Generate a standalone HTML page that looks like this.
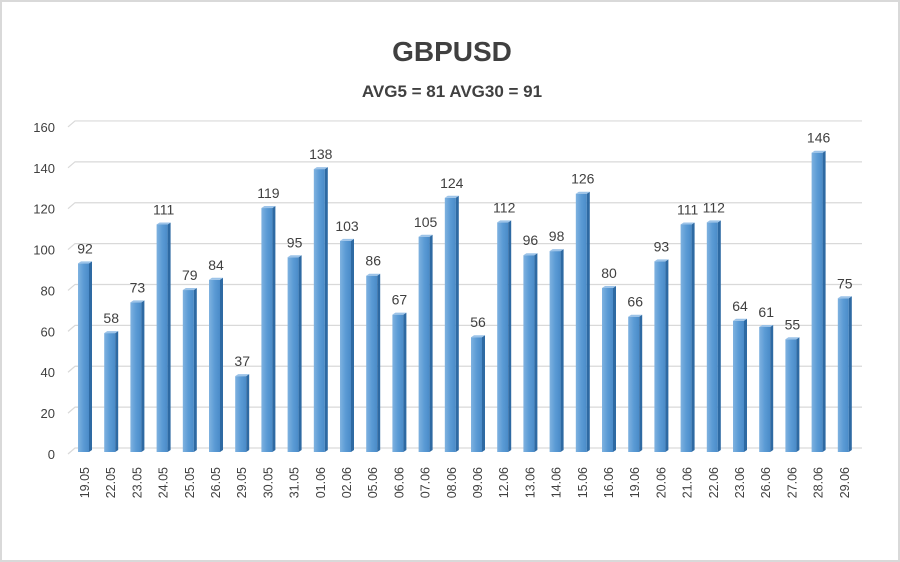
<!DOCTYPE html>
<html><head><meta charset="utf-8"><style>
html,body{margin:0;padding:0;background:#fff;}
svg{display:block;font-family:"Liberation Sans",sans-serif;}
</style></head><body>
<svg width="900" height="562" viewBox="0 0 900 562">
<defs>
<linearGradient id="g" x1="0" x2="1" y1="0" y2="0">
<stop offset="0" stop-color="#7fb2e0"/><stop offset="0.5" stop-color="#5b9bd5"/><stop offset="1" stop-color="#4a8bc8"/>
</linearGradient>
</defs>
<rect x="1" y="1" width="898" height="560" fill="#fff" stroke="#d9d9d9" stroke-width="2"/>
<text x="452" y="61" text-anchor="middle" font-size="28" font-weight="bold" fill="#404040">GBPUSD</text>
<text x="452" y="97" text-anchor="middle" font-size="17" font-weight="bold" fill="#404040">AVG5 = 81 AVG30 = 91</text>
<g id="grid" stroke="#d9d9d9" stroke-width="1.2" fill="none"></g>
<g id="ylab" font-size="13" fill="#404040" text-anchor="end"></g>
<g id="bars"></g>
<g id="vals" font-size="14" fill="#404040" text-anchor="middle"></g>
<g id="xlab" font-size="12.5" fill="#404040" text-anchor="end"></g>
</svg>
<script>
const v=[92,58,73,111,79,84,37,119,95,138,103,86,67,105,124,56,112,96,98,126,80,66,93,111,112,64,61,55,146,75];
const d=["19.05","22.05","23.05","24.05","25.05","26.05","29.05","30.05","31.05","01.06","02.06","05.06","06.06","07.06","08.06","09.06","12.06","13.06","14.06","15.06","16.06","19.06","20.06","21.06","22.06","23.06","26.06","27.06","28.06","29.06"];
const NS="http://www.w3.org/2000/svg";
function el(t,a,p,txt){const e=document.createElementNS(NS,t);for(const k in a)e.setAttribute(k,a[k]);if(txt!==undefined)e.textContent=txt;document.getElementById(p).appendChild(e);}
for(let k=0;k<=8;k++){const y=454-k*20*2.044;
el("path",{d:`M68 ${y} L75 ${y-6} L862 ${y-6}`},"grid");
el("text",{x:55,y:y+5},"ylab",String(k*20));}
v.forEach((val,i)=>{const x=78+i*26.2,b=452,t=b-val*2.05;
el("rect",{x:x,y:t,width:11,height:b-t,fill:"url(#g)"},"bars");
el("polygon",{points:`${x+11},${t} ${x+14},${t-2} ${x+14},${b-2} ${x+11},${b}`,fill:"#2e6aa3"},"bars");
el("polygon",{points:`${x},${t} ${x+3},${t-2} ${x+14},${t-2} ${x+11},${t}`,fill:"#9cc3e8"},"bars");
el("text",{x:x+7,y:t-10},"vals",String(val));
const cx=x+11;el("text",{x:cx,y:467,transform:`rotate(-90 ${cx} 467)`},"xlab",d[i]);});
</script>
</body></html>
